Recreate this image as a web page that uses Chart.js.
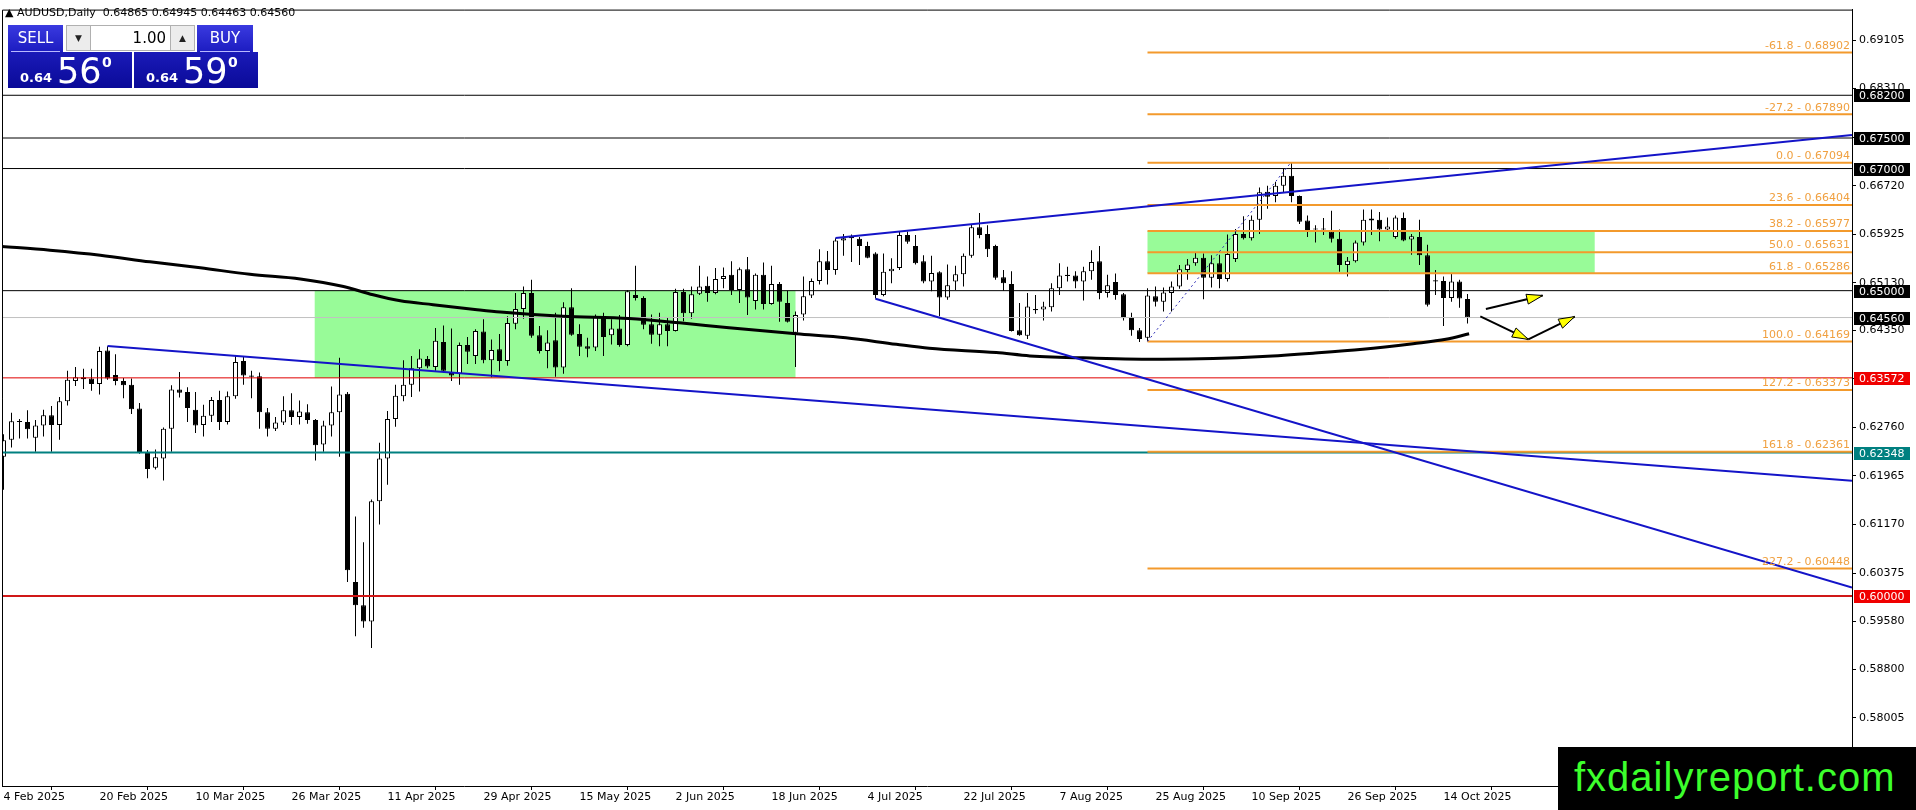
<!DOCTYPE html>
<html>
<head>
<meta charset="utf-8">
<title>AUDUSD, Daily</title>
<script src="https://cdn.jsdelivr.net/npm/chart.js@4.4.1/dist/chart.umd.min.js"></script>
<style>
  html, body { margin: 0; padding: 0; background: #fff; overflow: hidden; }
  #wrap { position: relative; width: 1916px; height: 810px; }
  #c { position: absolute; left: 0; top: 0; }
  .abs { position: absolute; }
  #hdr { left: 5px; top: 6px; font: 11px "DejaVu Sans"; color: #000; white-space: pre; }
  .btn { background: linear-gradient(#3a3ae0, #1c1cc0); color: #fff; font: 15px "DejaVu Sans"; text-align: center; line-height: 26px; }
  .btn:after { content: ""; position: absolute; left: 3px; right: 3px; bottom: 0; height: 1px; background: #b8b8ff; }
  .lotb { background: #ececec; border: 1px solid #b0b0b0; box-sizing: border-box; font: 9px "DejaVu Sans"; text-align: center; line-height: 25px; color: #222; }
  .px { background: linear-gradient(#1a1ab8, #0a0a98); color: #fff; }
  .px .s { position: absolute; left: 12px; bottom: 3px; font: bold 13px "DejaVu Sans"; }
  .px .b { position: absolute; left: 49px; bottom: -3px; font: 35px "DejaVu Sans"; }
  .px .p { position: absolute; left: 94px; top: 2px; font: bold 14px "DejaVu Sans"; }
  #logo { left: 1558px; top: 747px; width: 358px; height: 63px; background: #000; color: #3cff2c;
          font: 40px "Liberation Sans"; letter-spacing: 1px; line-height: 60px; padding-left: 16px; box-sizing: border-box; }
</style>
</head>
<body>
<div id="wrap">
  <canvas id="c" width="1916" height="810"></canvas>
  <div id="hdr" class="abs">▲ AUDUSD,Daily  0.64865 0.64945 0.64463 0.64560</div>
  <div class="abs btn" style="left:8px;top:25px;width:55px;height:27px;">SELL</div>
  <div class="abs lotb" style="left:66px;top:25px;width:25px;height:26px;">▼</div>
  <div class="abs" style="left:91px;top:25px;width:79px;height:26px;background:#fff;border-top:1px solid #b0b0b0;border-bottom:1px solid #b0b0b0;box-sizing:border-box;font:15px 'DejaVu Sans';text-align:right;line-height:24px;padding-right:4px;">1.00</div>
  <div class="abs lotb" style="left:170px;top:25px;width:25px;height:26px;">▲</div>
  <div class="abs btn" style="left:197px;top:25px;width:56px;height:27px;">BUY</div>
  <div class="abs px" style="left:8px;top:52px;width:124px;height:36px;"><span class="s">0.64</span><span class="b">56</span><span class="p">0</span></div>
  <div class="abs px" style="left:134px;top:52px;width:124px;height:36px;"><span class="s">0.64</span><span class="b">59</span><span class="p">0</span></div>
  <div id="logo" class="abs">fxdailyreport.com</div>
</div>
<script>
// daily candles, index 0 = 4 Feb 2025
const opens = [0.6228,0.6256,0.6285,0.6285,0.6259,0.6279,0.6296,0.6280,0.6319,0.6352,0.6358,0.6356,0.6347,0.6402,0.6362,0.6352,0.6346,0.6307,0.6234,0.6210,
  0.6225,0.6274,0.6338,0.6334,0.6305,0.6280,0.6295,0.6321,0.6285,0.6327,0.6385,0.6361,0.6360,0.6301,0.6274,0.6284,0.6304,0.6293,0.6301,0.6288,
  0.6248,0.6279,0.6301,0.6331,0.6023,0.5985,0.5958,0.6155,0.6225,0.6290,0.6327,0.6346,0.6373,0.6388,0.6375,0.6416,0.6367,0.6364,0.6411,0.6393,
  0.6433,0.6386,0.6404,0.6385,0.6446,0.6470,0.6496,0.6427,0.6401,0.6419,0.6374,0.6473,0.6429,0.6409,0.6407,0.6458,0.6427,0.6438,0.6411,0.6493,
  0.6488,0.6445,0.6428,0.6445,0.6434,0.6498,0.6463,0.6495,0.6508,0.6496,0.6519,0.6526,0.6501,0.6535,0.6483,0.6526,0.6478,0.6511,0.6480,0.6431,
  0.6461,0.6492,0.6516,0.6548,0.6534,0.6582,0.6586,0.6585,0.6573,0.6561,0.6493,0.6532,0.6537,0.6591,0.6573,0.6548,0.6515,0.6530,0.6489,0.6515,
  0.6527,0.6557,0.6604,0.6593,0.6573,0.6522,0.6511,0.6435,0.6426,0.6468,0.6469,0.6473,0.6504,0.6524,0.6525,0.6515,0.6532,0.6548,0.6496,0.6514,
  0.6494,0.6457,0.6435,0.6423,0.6491,0.6482,0.6496,0.6507,0.6534,0.6545,0.6554,0.6521,0.6545,0.6519,0.6552,0.6593,0.6586,0.6616,0.6662,0.6655,
  0.6672,0.6688,0.6655,0.6615,0.6602,0.6600,0.6597,0.6585,0.6542,0.6548,0.6579,0.6615,0.6616,0.6600,0.6588,0.6619,0.6584,0.6588,0.6558,0.6515,
  0.6516,0.6488,0.6515,0.64865];
const highs = [0.6265,0.6300,0.6290,0.6304,0.6288,0.6305,0.6311,0.6326,0.6369,0.6375,0.6372,0.6372,0.6408,0.6409,0.6396,0.6357,0.6356,0.6316,0.6239,0.6240,
  0.6276,0.6345,0.6367,0.6342,0.6334,0.6313,0.6326,0.6336,0.6335,0.6393,0.6392,0.6369,0.6366,0.6308,0.6293,0.6327,0.6332,0.6320,0.6314,0.6290,
  0.6287,0.6343,0.6390,0.6334,0.6130,0.6088,0.6158,0.6251,0.6303,0.6346,0.6386,0.6393,0.6404,0.6393,0.6439,0.6443,0.6438,0.6415,0.6424,0.6437,
  0.6453,0.6420,0.6429,0.6458,0.6496,0.6507,0.6518,0.6442,0.6435,0.6464,0.6481,0.6504,0.6445,0.6423,0.6461,0.6464,0.6453,0.6460,0.6501,0.6541,
  0.6491,0.6461,0.6464,0.6456,0.6503,0.6503,0.6507,0.6541,0.6523,0.6537,0.6538,0.6548,0.6538,0.6555,0.6528,0.6546,0.6541,0.6514,0.6500,0.6466,
  0.6523,0.6520,0.6568,0.6565,0.6586,0.6593,0.6592,0.6588,0.6580,0.6563,0.6561,0.6553,0.6596,0.6597,0.6591,0.6558,0.6557,0.6532,0.6543,0.6541,
  0.6561,0.6608,0.6627,0.6607,0.6575,0.6534,0.6532,0.6480,0.6496,0.6493,0.6482,0.6512,0.6545,0.6539,0.6532,0.6539,0.6566,0.6573,0.6526,0.6528,
  0.6496,0.6464,0.6439,0.6504,0.6507,0.6505,0.6515,0.6542,0.6552,0.6562,0.6561,0.6558,0.6559,0.6592,0.6601,0.6622,0.6623,0.6669,0.6672,0.6678,
  0.6700,0.6709,0.6656,0.6623,0.6607,0.6619,0.6631,0.6600,0.6555,0.6582,0.6633,0.6633,0.6629,0.6620,0.6623,0.6628,0.6593,0.6616,0.6575,0.6534,
  0.6523,0.6528,0.6518,0.64945];
const lows = [0.6174,0.6243,0.6258,0.6258,0.6236,0.6261,0.6236,0.6256,0.6312,0.6344,0.6339,0.6336,0.6330,0.6354,0.6345,0.6324,0.6298,0.6233,0.6193,0.6207,
  0.6189,0.6236,0.6325,0.6285,0.6267,0.6261,0.6285,0.6272,0.6281,0.6323,0.6346,0.6324,0.6274,0.6261,0.6270,0.6280,0.6280,0.6281,0.6282,0.6222,
  0.6236,0.6261,0.6228,0.6023,0.5934,0.5948,0.5915,0.6117,0.6182,0.6277,0.6319,0.6326,0.6335,0.6373,0.6369,0.6366,0.6352,0.6346,0.6380,0.6380,
  0.6381,0.6358,0.6368,0.6377,0.6437,0.6454,0.6423,0.6397,0.6373,0.6359,0.6364,0.6426,0.6393,0.6391,0.6401,0.6393,0.6412,0.6408,0.6409,0.6484,
  0.6437,0.6413,0.6409,0.6409,0.6433,0.6450,0.6454,0.6493,0.6482,0.6494,0.6504,0.6493,0.6480,0.6460,0.6469,0.6469,0.6477,0.6449,0.6448,0.6375,
  0.6451,0.6488,0.6510,0.6510,0.6526,0.6557,0.6547,0.6542,0.6553,0.6487,0.6491,0.6512,0.6534,0.6577,0.6543,0.6512,0.6499,0.6458,0.6485,0.6501,
  0.6507,0.6554,0.6586,0.6555,0.6518,0.6500,0.6433,0.6426,0.6421,0.6462,0.6451,0.6466,0.6493,0.6515,0.6504,0.6484,0.6518,0.6486,0.6489,0.6485,
  0.6451,0.6426,0.6416,0.6417,0.6474,0.6466,0.6466,0.6503,0.6518,0.6541,0.6486,0.6505,0.6504,0.6515,0.6547,0.6584,0.6582,0.6593,0.6634,0.6645,
  0.6660,0.6645,0.6609,0.6588,0.6579,0.6591,0.6579,0.6531,0.6523,0.6546,0.6574,0.6591,0.6581,0.6596,0.6585,0.6581,0.6559,0.6542,0.6474,0.6493,
  0.6442,0.6482,0.6472,0.64463];
const closes = [0.6255,0.6286,0.6286,0.6273,0.6279,0.6296,0.6280,0.6319,0.6354,0.6358,0.6355,0.6347,0.6401,0.6356,0.6352,0.6345,0.6306,0.6234,0.6208,0.6227,
  0.6274,0.6338,0.6333,0.6308,0.6279,0.6295,0.6321,0.6285,0.6327,0.6383,0.6361,0.6359,0.6301,0.6274,0.6284,0.6304,0.6293,0.6302,0.6288,0.6247,
  0.6279,0.6301,0.6330,0.6042,0.5985,0.5958,0.6155,0.6225,0.6290,0.6328,0.6346,0.6373,0.6389,0.6376,0.6418,0.6369,0.6361,0.6411,0.6400,0.6434,
  0.6386,0.6403,0.6385,0.6447,0.6470,0.6496,0.6426,0.6401,0.6415,0.6374,0.6473,0.6428,0.6408,0.6405,0.6457,0.6424,0.6438,0.6411,0.6499,0.6488,
  0.6444,0.6428,0.6445,0.6434,0.6498,0.6463,0.6494,0.6507,0.6496,0.6519,0.6524,0.6501,0.6535,0.6489,0.6526,0.6478,0.6511,0.6482,0.6449,0.6460,
  0.6491,0.6516,0.6548,0.6534,0.6582,0.6586,0.6588,0.6573,0.6554,0.6493,0.6531,0.6536,0.6591,0.6580,0.6545,0.6515,0.6529,0.6489,0.6509,0.6527,
  0.6557,0.6604,0.6591,0.6568,0.6521,0.6512,0.6434,0.6427,0.6474,0.6470,0.6474,0.6504,0.6525,0.6526,0.6515,0.6532,0.6547,0.6496,0.6509,0.6493,
  0.6455,0.6435,0.6421,0.6492,0.6482,0.6497,0.6507,0.6535,0.6543,0.6554,0.6521,0.6545,0.6519,0.6560,0.6593,0.6586,0.6616,0.6661,0.6654,0.6672,
  0.6688,0.6655,0.6613,0.6597,0.6600,0.6602,0.6585,0.6542,0.6549,0.6579,0.6616,0.6618,0.6600,0.6605,0.6620,0.6582,0.6589,0.6558,0.6477,0.6517,
  0.6488,0.6515,0.6487,0.64560];

// moving average, sampled along the curve (bar position, price)
const maX = [-0.4,5.8,12.1,18.3,24.6,30.8,37.1,42.5,46.2,49.6,53.7,59.2,62.1,69.9,78.2,84.5,90.7,99.1,105.3,111.6,115.7,124.1,
  128.3,136.6,144.9,151.2,157.4,163.7,169.9,176.2,180.3,183.2];
const maY = [0.65726,0.65662,0.6558,0.65472,0.65375,0.65267,0.65191,0.65067,0.64932,0.64834,0.6477,0.64689,0.64651,0.64581,0.64543,0.64473,
  0.64392,0.64294,0.64229,0.64121,0.64057,0.63986,0.63932,0.63895,0.63878,0.63889,0.63922,0.63976,0.6404,0.64132,0.64203,0.64295];

const dateIdx = [0,12,24,36,48,60,72,84,96,108,120,132,144,156,168,180];
const dateText = ['4 Feb 2025','20 Feb 2025','10 Mar 2025','26 Mar 2025','11 Apr 2025','29 Apr 2025','15 May 2025','2 Jun 2025',
  '18 Jun 2025','4 Jul 2025','22 Jul 2025','7 Aug 2025','25 Aug 2025','10 Sep 2025','26 Sep 2025','14 Oct 2025'];
const yTicks = [0.69105,0.68310,0.67515,0.66720,0.65925,0.65130,0.64350,0.63555,0.62760,0.61965,0.61170,0.60375,0.59580,0.58800,0.58005];

const hLevels = [0.68200,0.67500,0.67000,0.65000,0.64560,0.63572,0.62348,0.60000];
const hColors = ['#000','#000','#000','#000','#c0c0c0','#e00000','#008080','#d01818'];
const hWidths = [1,1,1,1,1,1,2,2];
const tagColors = ['#000','#000','#000','#000','#000','#f00000','#008080','#f00000'];

const fibRatio = [-61.8,-27.2,0.0,23.6,38.2,50.0,61.8,100.0,127.2,161.8,227.2];
const fibPrice = [0.68902,0.67890,0.67094,0.66404,0.65977,0.65631,0.65286,0.64169,0.63373,0.62361,0.60448];
const fibFrom = 143;
const fibLow = [143, 0.64169], fibHigh = [160.9, 0.67094];

const trendX0 = [13,104,109], trendY0 = [0.64094,0.65862,0.64867];
const trendX1 = [231.06,231.06,231.06], trendY1 = [0.61888,0.67548,0.60137];

const zoneFrom = [38.9,143.0], zoneTo = [99.0,198.9], zoneLow = [0.63572,0.65286], zoneHigh = [0.65000,0.65977];

const arrFromX = [185.3,184.6,190.6], arrFromY = [0.64700,0.64580,0.64202];
const arrToX = [192.4,190.6,196.4], arrToY = [0.64921,0.64202,0.64575];

const xMin = -0.1875, xMax = 231.0625, yMin = 0.56888, yMax = 0.69603;

const idx = opens.map((o, i) => i);
const seg = (x0, y0, x1, y1, color, width, order, dash) => ({
  type: 'line', data: [{x: x0, y: y0}, {x: x1, y: y1}], borderColor: color, borderWidth: width,
  borderDash: dash || [], pointRadius: 0, fill: false, order: order
});

const datasets = [
  { type: 'bar', data: idx.map(i => ({x: i, y: [lows[i], highs[i]]})), backgroundColor: '#000',
    barThickness: 1, borderWidth: 0, grouped: false, inflateAmount: 0, order: 21 },
  { type: 'bar', data: idx.map(i => ({x: i, y: [opens[i], closes[i]]})),
    backgroundColor: idx.map(i => closes[i] >= opens[i] ? '#fff' : '#000'), borderColor: '#000', borderWidth: 1,
    borderSkipped: false, barThickness: 5, minBarLength: 1, grouped: false, inflateAmount: 0, order: 20 },
  { type: 'line', data: maX.map((v, i) => ({x: v, y: maY[i]})), borderColor: '#000', borderWidth: 3,
    pointRadius: 0, fill: false, cubicInterpolationMode: 'monotone', order: 6 }
];
hLevels.forEach((v, i) => datasets.push(seg(xMin, v, xMax, v, hColors[i], hWidths[i], 9)));
fibPrice.forEach(v => datasets.push(seg(fibFrom, v, xMax, v, '#f39a2c', 2, 7)));
datasets.push(seg(fibLow[0], fibLow[1], fibHigh[0], fibHigh[1], '#2a2ab4', 1, 5, [2, 3]));
trendX0.forEach((v, i) => datasets.push(seg(v, trendY0[i], trendX1[i], trendY1[i], '#1414c8', 2, 4)));
arrFromX.forEach((v, i) => datasets.push(seg(v, arrFromY[i], arrToX[i], arrToY[i], '#000', 2, 2)));

const overlay = {
  id: 'overlay',
  beforeDatasetsDraw(chart) {
    const {ctx, chartArea: a, scales: {x, y}} = chart;
    ctx.save();
    ctx.beginPath(); ctx.rect(a.left, a.top, a.right - a.left, a.bottom - a.top); ctx.clip();
    ctx.fillStyle = '#98fb98';
    zoneFrom.forEach((v, i) => {
      const x0 = x.getPixelForValue(v), x1 = x.getPixelForValue(zoneTo[i]);
      const y0 = y.getPixelForValue(zoneHigh[i]), y1 = y.getPixelForValue(zoneLow[i]);
      ctx.fillRect(x0, y0, x1 - x0, y1 - y0);
    });
    ctx.restore();
  },
  afterDatasetsDraw(chart) {
    const {ctx, chartArea: a, scales: {x, y}} = chart;
    ctx.save();
    ctx.font = '11px "DejaVu Sans"';
    ctx.fillStyle = '#f0a040';
    ctx.textAlign = 'right';
    ctx.textBaseline = 'bottom';
    fibPrice.forEach((v, i) => {
      ctx.fillText(fibRatio[i].toFixed(1) + ' - ' + v.toFixed(5), a.right - 2, y.getPixelForValue(v) - 1);
    });
    // arrow heads
    arrToX.forEach((v, i) => {
      const x0 = x.getPixelForValue(arrFromX[i]), y0 = y.getPixelForValue(arrFromY[i]);
      const x1 = x.getPixelForValue(v), y1 = y.getPixelForValue(arrToY[i]);
      const ang = Math.atan2(y1 - y0, x1 - x0), len = 16, hw = 5;
      const bx = x1 - len * Math.cos(ang), by = y1 - len * Math.sin(ang);
      ctx.beginPath();
      ctx.moveTo(x1, y1);
      ctx.lineTo(bx + hw * Math.sin(ang), by - hw * Math.cos(ang));
      ctx.lineTo(bx - hw * Math.sin(ang), by + hw * Math.cos(ang));
      ctx.closePath();
      ctx.fillStyle = '#ffff00'; ctx.fill();
      ctx.strokeStyle = '#000'; ctx.lineWidth = 1; ctx.stroke();
    });
    ctx.restore();
  },
  afterDraw(chart) {
    const {ctx, chartArea: a, scales: {y}} = chart;
    ctx.save();
    ctx.strokeStyle = '#000'; ctx.lineWidth = 1;
    ctx.beginPath();
    ctx.moveTo(a.left + 0.5, a.bottom); ctx.lineTo(a.left + 0.5, a.top + 0.5); ctx.lineTo(a.right, a.top + 0.5);
    ctx.stroke();
    ctx.font = '11px "DejaVu Sans"';
    ctx.textAlign = 'left';
    ctx.textBaseline = 'middle';
    hLevels.forEach((v, i) => {
      const py = Math.round(y.getPixelForValue(v));
      ctx.fillStyle = tagColors[i];
      ctx.fillRect(a.right + 2, py - 6, 56, 13);
      ctx.fillStyle = '#fff';
      ctx.fillText(v.toFixed(5), a.right + 7, py + 1);
    });
    ctx.restore();
  }
};

new Chart(document.getElementById('c'), {
  type: 'bar',
  data: { datasets: datasets },
  plugins: [overlay],
  options: {
    responsive: false,
    animation: false,
    devicePixelRatio: 1,
    layout: { padding: { left: 2, top: 2, right: 0, bottom: 0 } },
    plugins: { legend: { display: false }, tooltip: { enabled: false } },
    font: { family: 'DejaVu Sans', size: 11 },
    scales: {
      x: {
        type: 'linear', min: xMin, max: xMax, offset: false,
        afterFit: s => { s.height = 24; },
        afterBuildTicks: s => { s.ticks = dateIdx.map(v => ({value: v})); },
        grid: { drawOnChartArea: false, drawTicks: true, tickLength: 4, color: '#000' },
        border: { display: true, color: '#000' },
        ticks: {
          autoSkip: false, maxRotation: 0, align: 'start', padding: 1, color: '#000',
          font: { family: 'DejaVu Sans', size: 11 },
          callback: v => { const i = dateIdx.indexOf(v); return i < 0 ? '' : dateText[i]; }
        }
      },
      y: {
        type: 'linear', position: 'right', min: yMin, max: yMax,
        afterFit: s => { s.width = 64; },
        afterBuildTicks: s => { s.ticks = yTicks.map(v => ({value: v})); },
        grid: { drawOnChartArea: false, drawTicks: true, tickLength: 4, color: '#000' },
        border: { display: true, color: '#000' },
        ticks: {
          autoSkip: false, padding: 3, color: '#000',
          font: { family: 'DejaVu Sans', size: 11 },
          callback: v => v.toFixed(5)
        }
      }
    }
  }
});
</script>
</body>
</html>
